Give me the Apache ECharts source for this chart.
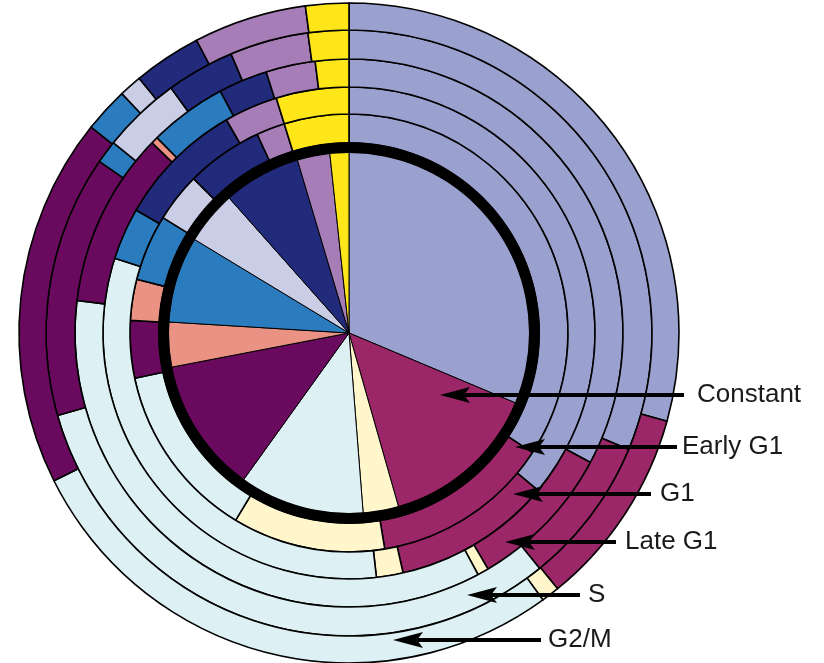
<!DOCTYPE html>
<html><head><meta charset="utf-8">
<script src="https://cdn.jsdelivr.net/npm/echarts@6/dist/echarts.min.js"></script>
<style>html,body{margin:0;padding:0;background:#fff}#c{width:824px;height:663px}</style>
</head><body><div id="c"></div>
<script>
// ---- data (angular span of each cluster, in degrees of the circle) ----
const clusters = ['Cluster 1','Cluster 2','Cluster 3','Cluster 4','Cluster 5','Cluster 6','Cluster 7','Cluster 8','Cluster 9','Cluster 10','Cluster 11'];
const ringLabels = ['Constant','Early G1','G1','Late G1','S','G2/M'];
const constantVals = [112.8, 51.3, 11.4, 40.2, 43.4, 14.4, 27.7, 17.2, 25.0, 10.5, 6.1];
const earlyG1Vals  = [123.1, 47.5, 40.6, 46.9, 15.2, 10.9, 17.6, 13.0, 20.4, 7.6, 17.2];
const g1Vals       = [129.8, 37.5, 6.3, 114.1, 0, 0, 12.3, 0, 30.1, 12.7, 17.2];
const lateG1Vals   = [118.2, 31.3, 2.4, 124.9, 37.2, 1.5, 16.5, 0, 10.4, 10.5, 7.1];
const sVals        = [112.6, 28.4, 0, 113.2, 50.3, 0, 4.4, 15.1, 13.1, 15.1, 7.8];
const g2mVals      = [105.5, 35.3, 3.2, 99.4, 65.2, 0, 7.9, 4.0, 12.0, 19.9, 7.6];

// ---- styling / layout ----
const colors = ['#9AA1CE','#9C2768','#FFF6CC','#DDF0F3','#6A0A5E','#EA9384','#2B7BBF','#C9CDE6','#212A7B','#A67DB6','#FFE619'];
const CX = 349, CY = 333;
const ringRadii = [[0,181],[190,219],[219,246],[246,274],[274,303],[303,330]];
const blackRing = [180,191];
const arrowLayout = [
  {y:395, tip:440, end:684, tx:697},
  {y:447, tip:515, end:677, tx:682},
  {y:494, tip:513, end:651, tx:660},
  {y:542, tip:505, end:616, tx:625},
  {y:595, tip:467, end:580, tx:588},
  {y:640, tip:393, end:541, tx:548}
];

const ringData = [constantVals, earlyG1Vals, g1Vals, lateG1Vals, sVals, g2mVals];

const series = ringData.map((vals, i) => ({
  type: 'pie',
  name: ringLabels[i],
  center: [CX, CY],
  radius: ringRadii[i],
  startAngle: 90,
  clockwise: true,
  silent: true,
  animation: false,
  label: {show: false},
  labelLine: {show: false},
  emphasis: {disabled: true},
  itemStyle: {borderColor: '#000', borderWidth: i === 0 ? 1 : 1.6, borderRadius: 0},
  data: vals.map((v, k) => ({name: clusters[k], value: v, itemStyle: {color: colors[k]}})).filter(d => d.value > 0)
}));
series.push({
  type: 'pie', center: [CX, CY], radius: blackRing, silent: true, animation: false,
  label: {show: false}, labelLine: {show: false}, emphasis: {disabled: true},
  itemStyle: {borderWidth: 0, color: '#000'},
  data: [{name: 'ring', value: 1}]
});

const graphics = [];
arrowLayout.forEach((a, i) => {
  graphics.push({type: 'line', z: 100, shape: {x1: a.tip + 20, y1: a.y, x2: a.end, y2: a.y}, style: {stroke: '#000', lineWidth: 4}});
  graphics.push({type: 'polygon', z: 101, shape: {points: [[a.tip, a.y], [a.tip + 30, a.y - 8], [a.tip + 24, a.y], [a.tip + 30, a.y + 8]]}, style: {fill: '#000'}});
  graphics.push({type: 'text', z: 102, x: a.tx, y: a.y, style: {text: ringLabels[i], fill: '#1a1a1a', font: '26px "Liberation Sans", Arial, sans-serif', textVerticalAlign: 'middle', verticalAlign: 'middle'}});
});

const chart = echarts.init(document.getElementById('c'), null, {renderer: 'canvas'});
chart.setOption({animation: false, backgroundColor: '#fff', series: series, graphic: graphics});
</script></body></html>
